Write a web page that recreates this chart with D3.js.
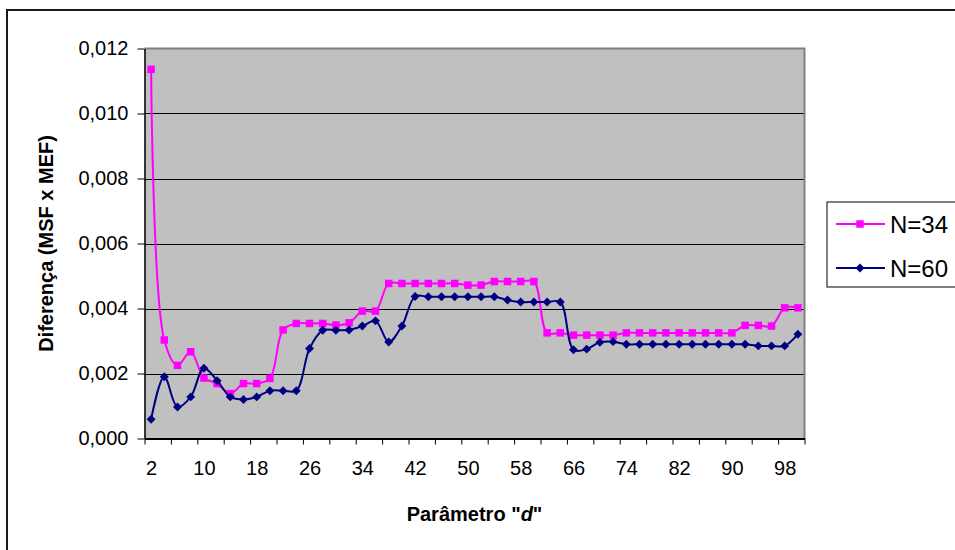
<!DOCTYPE html>
<html>
<head>
<meta charset="utf-8">
<script src="https://cdn.jsdelivr.net/npm/d3@7"></script>
<style>
  html, body { margin: 0; padding: 0; background: #fff; }
  svg { display: block; font-family: "Liberation Sans", Arial, sans-serif; }
</style>
</head>
<body>
<svg id="chart" width="955" height="550"></svg>
<script>
// Parameter d (categories)
const dValues = [2,4,6,8,10,12,14,16,18,20,22,24,26,28,30,32,34,36,38,40,
                 42,44,46,48,50,52,54,56,58,60,62,64,66,68,70,72,74,76,78,80,
                 82,84,86,88,90,92,94,96,98,100];

// Difference (MSF x MEF) for N=34
const n34 = [0.01136,0.00303,0.00225,0.00267,0.00186,0.00169,0.00138,0.00169,0.00169,0.00185,
             0.00334,0.00354,0.00354,0.00354,0.00349,0.00356,0.00392,0.00392,0.00477,0.00477,
             0.00477,0.00477,0.00477,0.00477,0.00472,0.00472,0.00483,0.00483,0.00483,0.00483,
             0.00325,0.00325,0.00318,0.00318,0.00318,0.00318,0.00325,0.00325,0.00325,0.00325,
             0.00325,0.00325,0.00325,0.00325,0.00325,0.00348,0.00348,0.00346,0.00402,0.00402];

// Difference (MSF x MEF) for N=60
const n60 = [0.00059,0.00190,0.00097,0.00128,0.00216,0.00178,0.00128,0.00120,0.00128,0.00147,
             0.00147,0.00147,0.00277,0.00333,0.00333,0.00334,0.00346,0.00362,0.00297,0.00346,
             0.00437,0.00436,0.00436,0.00436,0.00436,0.00436,0.00436,0.00426,0.00420,0.00420,
             0.00420,0.00420,0.00273,0.00275,0.00296,0.00298,0.00290,0.00290,0.00290,0.00290,
             0.00290,0.00290,0.00290,0.00290,0.00290,0.00290,0.00285,0.00285,0.00285,0.00321];

const yTicks = [0, 0.002, 0.004, 0.006, 0.008, 0.010, 0.012];
const xLabelEvery = 4;   // one label every 4 categories
const xTickEvery = 2;    // one tick mark every 2 categories

const seriesNames = ["N=34", "N=60"];

const svg = d3.select("#chart");

const plot = { left: 144.5, right: 804.5, top: 48.5, bottom: 438.5 };

// Category index scale: categories sit between tick marks
const x = d3.scaleLinear()
  .domain([-0.5, dValues.length - 0.5])
  .range([plot.left, plot.right]);

const y = d3.scaleLinear()
  .domain([0, 0.012])
  .range([plot.bottom, plot.top]);

const locale = d3.formatLocale({ decimal: ",", thousands: ".", grouping: [3], currency: ["", ""] });
const fmt = locale.format(".3f");

// Outer chart frame
svg.append("rect")
  .attr("x", 7).attr("y", 10)
  .attr("width", 960).attr("height", 560)
  .attr("fill", "#fff")
  .attr("stroke", "#1a1a1a").attr("stroke-width", 2);

// Plot background
svg.append("rect")
  .attr("x", plot.left).attr("y", plot.top)
  .attr("width", plot.right - plot.left).attr("height", plot.bottom - plot.top)
  .attr("fill", "#c0c0c0");

// Horizontal gridlines
svg.append("g")
  .selectAll("line")
  .data(yTicks.filter(v => v > 0 && v < 0.012))
  .join("line")
  .attr("x1", plot.left).attr("x2", plot.right)
  .attr("y1", d => Math.round(y(d)) + 0.5).attr("y2", d => Math.round(y(d)) + 0.5)
  .attr("stroke", "#000").attr("stroke-width", 1);

// Top and right plot border
svg.append("path")
  .attr("d", `M${plot.left},${plot.top}H${plot.right}V${plot.bottom}`)
  .attr("fill", "none").attr("stroke", "#808080").attr("stroke-width", 2);

// Y axis
const yAxis = d3.axisLeft(y)
  .tickValues(yTicks)
  .tickFormat(fmt)
  .tickSizeInner(7).tickSizeOuter(0)
  .tickPadding(9);

const gy = svg.append("g")
  .attr("transform", `translate(${plot.left},0)`)
  .call(yAxis);
gy.select(".domain").attr("stroke", "#000").attr("stroke-width", 1.5);
gy.selectAll(".tick line").attr("stroke", "#000").attr("stroke-width", 1);
gy.selectAll(".tick text")
  .attr("font-size", 20).attr("fill", "#000")
  .attr("font-family", "'Liberation Sans', Arial, sans-serif");

// X axis tick marks at category boundaries
const tickPositions = d3.range(-0.5, dValues.length, xTickEvery);
const xAxisMarks = d3.axisBottom(x)
  .tickValues(tickPositions)
  .tickFormat("")
  .tickSizeInner(6).tickSizeOuter(0);
const gx = svg.append("g")
  .attr("transform", `translate(0,${plot.bottom})`)
  .call(xAxisMarks);
gx.select(".domain").attr("stroke", "#000").attr("stroke-width", 2);
gx.selectAll(".tick line").attr("stroke", "#000").attr("stroke-width", 1);

// X axis labels centred on categories
const labelIdx = d3.range(0, dValues.length, xLabelEvery);
const xAxisLabels = d3.axisBottom(x)
  .tickValues(labelIdx)
  .tickFormat(i => dValues[i])
  .tickSize(0).tickPadding(22);
const gxl = svg.append("g")
  .attr("transform", `translate(0,${plot.bottom})`)
  .call(xAxisLabels);
gxl.select(".domain").remove();
gxl.selectAll(".tick text")
  .attr("font-size", 20).attr("fill", "#000")
  .attr("font-family", "'Liberation Sans', Arial, sans-serif");

// Axis titles
const xTitle = svg.append("text")
  .attr("x", (plot.left + plot.right) / 2).attr("y", 521)
  .attr("text-anchor", "middle")
  .attr("font-size", 20).attr("font-weight", "bold").attr("fill", "#000");
xTitle.append("tspan").text("Parâmetro \"");
xTitle.append("tspan").attr("font-style", "italic").text("d");
xTitle.append("tspan").text("\"");

svg.append("text")
  .attr("transform", `translate(53,${(plot.top + plot.bottom) / 2}) rotate(-90)`)
  .attr("text-anchor", "middle")
  .attr("font-size", 20).attr("font-weight", "bold").attr("fill", "#000")
  .text("Diferença (MSF x MEF)");

// Series
const series = [
  { name: seriesNames[0], values: n34, color: "#ff00ff", shape: "square" },
  { name: seriesNames[1], values: n60, color: "#000080", shape: "diamond" }
];

// Smoothed lines (centripetal Catmull-Rom keeps overshoot small)
const line = d3.line()
  .x((v, i) => x(i))
  .y(v => y(v))
  .curve(d3.curveCatmullRom.alpha(0.5));

const squareSym = d3.symbol(d3.symbolSquare, 56);
const diamondSym = d3.symbol(d3.symbolSquare, 40);

function drawMarker(sel, shape, color) {
  if (shape === "square") {
    sel.attr("d", squareSym()).attr("fill", color);
  } else {
    sel.attr("d", diamondSym()).attr("fill", color);
  }
}

series.forEach(s => {
  const g = svg.append("g");
  g.append("path")
    .datum(s.values)
    .attr("d", line)
    .attr("fill", "none")
    .attr("stroke", s.color)
    .attr("stroke-width", 2);
  g.selectAll("path.mk")
    .data(s.values)
    .join("path")
    .attr("class", "mk")
    .attr("transform", (v, i) => `translate(${x(i)},${y(v)})` + (s.shape === "diamond" ? " rotate(45)" : ""))
    .call(drawMarker, s.shape, s.color);
});

// Legend
const legend = svg.append("g");
legend.append("rect")
  .attr("x", 827).attr("y", 202)
  .attr("width", 140).attr("height", 85)
  .attr("fill", "#fff").attr("stroke", "#000").attr("stroke-width", 1);

const legendRows = [224, 268];
series.forEach((s, k) => {
  const cy = legendRows[k];
  legend.append("line")
    .attr("x1", 836).attr("x2", 885)
    .attr("y1", cy).attr("y2", cy)
    .attr("stroke", s.color).attr("stroke-width", 2);
  legend.append("path")
    .attr("transform", `translate(860,${cy})` + (s.shape === "diamond" ? " rotate(45)" : ""))
    .call(drawMarker, s.shape, s.color);
  legend.append("text")
    .attr("x", 890).attr("y", cy + 8.5)
    .attr("font-size", 24).attr("fill", "#000")
    .text(s.name);
});
</script>
</body>
</html>
